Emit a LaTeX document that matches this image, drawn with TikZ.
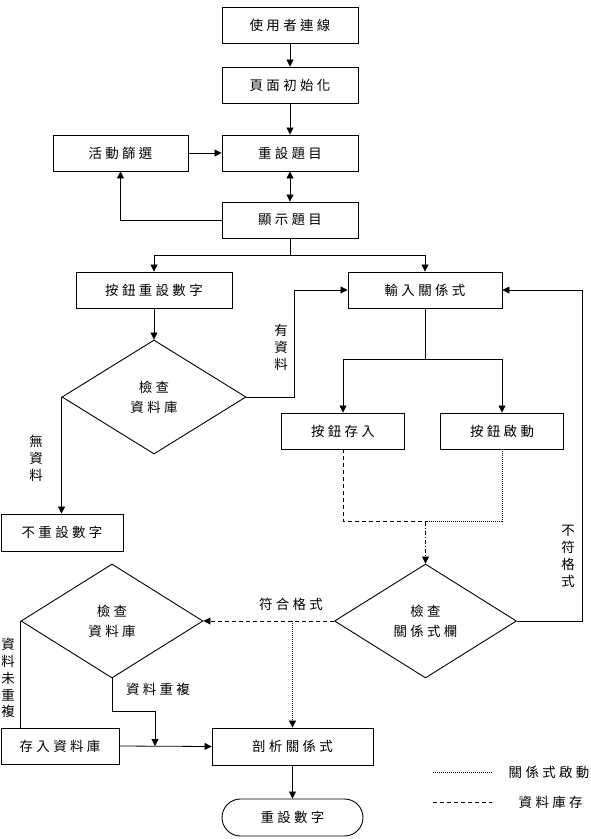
\documentclass[tikz,border=0pt]{standalone}
\usepackage{fontspec}
\newfontfamily\cjk[LetterSpace=25]{Noto Sans CJK TC}
\usetikzlibrary{arrows.meta,shapes.geometric,shapes.misc,calc}
\begin{document}
\begin{tikzpicture}[x=1bp,y=-1bp,
  font=\cjk\fontsize{13.5}{20}\selectfont,
  line width=0.8bp,
  box/.style={draw, line width=0.9bp, minimum height=36bp, inner sep=0pt},
  dia/.style={draw, diamond, line width=0.9bp, inner sep=0pt, aspect=1.6, minimum height=114bp, align=center},
  arr/.style={-{Triangle[length=7bp,width=7bp]}},
  darr/.style={{Triangle[length=7bp,width=7bp]}-{Triangle[length=7bp,width=7bp]}},
  vlab/.style={align=center, font=\cjk\fontsize{13.5}{17}\selectfont, inner sep=0pt},
  dsh/.style={dash pattern=on 4bp off 3bp},
  dtt/.style={dash pattern=on 0.8bp off 1.2bp, line width=0.6bp},
  dshdt/.style={dash pattern=on 4bp off 2bp on 1bp off 2bp}
]
\useasboundingbox (0,0) rectangle (591,839);

% boxes
\node[box, minimum width=136bp] (n1) at (290,25) {使用者連線};
\node[box, minimum width=136bp] (n2) at (290,85) {頁面初始化};
\node[box, minimum width=136bp] (n3) at (290,153) {重設題目};
\node[box, minimum width=136bp] (n4) at (290,220) {顯示題目};
\node[box, minimum width=135bp] (n5) at (120.5,153) {活動篩選};
\node[box, minimum width=156bp] (n6) at (154,290) {按鈕重設數字};
\node[box, minimum width=154bp] (n7) at (425,290) {輸入關係式};
\node[box, minimum width=123bp] (n8) at (343,431) {按鈕存入};
\node[box, minimum width=123bp] (n9) at (502,431) {按鈕啟動};
\node[box, minimum width=122bp, minimum height=37bp] (n10) at (62,532.5) {不重設數字};
\node[box, minimum width=118bp] (n11) at (60,746) {存入資料庫};
\node[box, minimum width=161bp, minimum height=37bp] (n12) at (292.5,746.5) {剖析關係式};
\node[draw, rounded rectangle, line width=0.9bp, minimum width=141bp, minimum height=37bp, inner sep=0pt] (n13) at (292.5,817.5) {重設數字};

% diamonds
\node[dia, minimum width=184bp] (d1) at (154,397) {檢查\\資料庫};
\node[dia, minimum width=182bp] (d2) at (425.5,621) {檢查\\關係式欄};
\node[dia, minimum width=182bp] (d3) at (112,621) {檢查\\資料庫};

% top chain
\draw[arr] (n1.south) -- (n2.north);
\draw[arr] (n2.south) -- (n3.north);
\draw[arr] (n5.east) -- (n3.west);
\draw[darr] (n3.south) -- (n4.north);
\draw[arr] (n4.west) -| (n5.south);

% branch from display
\draw (n4.south) -- ++(0,17) coordinate (b1);
\draw[arr] (b1) -| (n6.north);
\draw[arr] (b1) -| (n7.north);

% reset number branch
\draw[arr] (n6.south) -- (d1.north);
\draw[arr] (d1.east) -- ++(48,0) |- (n7.west);
\node[vlab] (l1) at (281,347) {有\\資\\料};
\draw[arr] (d1.west) -- (d1.west |- n10.north);
\node[vlab] (l2) at (36,458) {無\\資\\料};

% input relation branch
\draw (n7.south) -- ++(0,51) coordinate (b2);
\draw[arr] (b2) -| (n8.north);
\draw[arr] (b2) -| (n9.north);

\coordinate (j) at ($(d2.north)+(0,-42)$);
\draw[dsh] (n8.south) |- (j);
\draw[dtt] (n9.south) |- (j);
\draw[dshdt,arr] (j) -- (d2.north);

% check relation field
\draw[arr] (d2.east) -- ++(65,0) |- (n7.east);
\node[vlab] (l3) at (568,556) {不\\符\\格\\式};
\draw[dsh,arr] (d2.west) -- (d3.east);
\node (l4) at (291,604) {符合格式};
\coordinate (k) at (n12.north |- d2.west);
\draw[dtt,arr] (k) -- (n12.north);

% check database 2
\coordinate (m) at (155,746);
\draw[arr] (d3.south) -- ++(0,33) -| (m);
\node (l5) at (158,689) {資料重複};
\draw (d3.west) -- (d3.west |- n11.north);
\node[vlab] (l6) at (8,678) {資\\料\\未\\重\\複};

\draw[arr] (n11.east) -- (n12.west);
\draw[arr] (n12.south) -- (n13.north);

% legend
\coordinate (g1) at (433,772);
\coordinate (g2) at (492,772);
\coordinate (g3) at (433,802);
\coordinate (g4) at (492,802);
\draw[dtt] (g1) -- (g2);
\draw[dsh] (g3) -- (g4);
\node[anchor=west] (t1) at (505,772) {關係式啟動};
\node[anchor=west] (t2) at (515,802) {資料庫存};
\end{tikzpicture}
\end{document}
